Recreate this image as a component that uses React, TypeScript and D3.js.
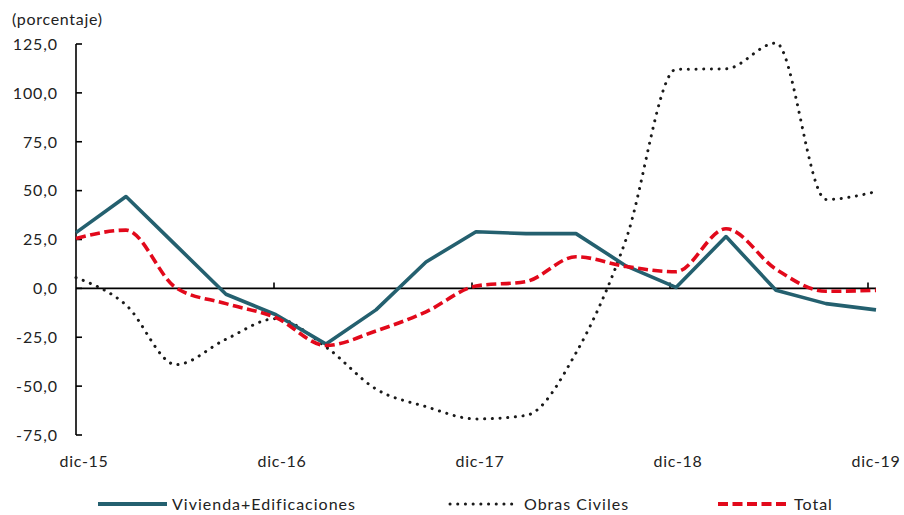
import React from "react";
import * as d3 from "d3";

const periods = ["dic-15","mar-16","jun-16","sep-16","dic-16","mar-17","jun-17","sep-17","dic-17","mar-18","jun-18","sep-18","dic-18","mar-19","jun-19","sep-19","dic-19"];
const vivienda = [28.5, 47, 22, -3, -13.5, -28.5, -11, 13.5, 29, 28, 28, 11.5, 0.5, 26.5, -1, -7.8, -11];
const obras = [5.5, -8.5, -39, -26, -15.5, -30, -51.5, -60.5, -66.8, -65, -33, 25, 112, 112.3, 125.5, 45.5, 49.5];
const total = [25.5, 29.8, 0.3, -7.8, -15, -29.2, -21.8, -12, 1.2, 3.5, 16.2, 11.2, 8.5, 30.5, 9.8, -1.5, -1];
const yTicks = [125, 100, 75, 50, 25, 0, -25, -50, -75];
const xTickLabels = ["dic-15", "dic-16", "dic-17", "dic-18", "dic-19"];
const legendNames = ["Vivienda+Edificaciones", "Obras Civiles", "Total"];

const W = 904, H = 515;
const FONT = "Lato, 'Open Sans', sans-serif";
const TEAL = "#24606F";
const RED = "#E2091B";
const DOT = "#1a1a1a";

export default function App() {
  const x = d3.scaleLinear().domain([0, periods.length - 1]).range([76, 876]);
  const xTick = d3.scaleLinear().domain([0, xTickLabels.length - 1]).range([76, 868]);
  const y = d3.scaleLinear().domain([-75, 125]).range([435, 44]);

  const lineLin = d3.line<number>().x((_, i) => x(i)).y((d) => y(d));
  const lineSmooth = d3.line<number>().x((_, i) => x(i)).y((d) => y(d)).curve(d3.curveMonotoneX);

  const fmt = (v: number) => v.toFixed(1).replace(".", ",");

  const legend = [
    { name: legendNames[0], x0: 98, x1: 167, tx: 172, stroke: TEAL, dash: undefined as string | undefined, cap: "butt", w: 4 },
    { name: legendNames[1], x0: 450, x1: 518, tx: 524, stroke: DOT, dash: "0.1 7.6", cap: "round", w: 3 },
    { name: legendNames[2], x0: 718, x1: 789, tx: 794, stroke: RED, dash: "10 4.5", cap: "butt", w: 4 },
  ];

  return (
    <svg width={W} height={H} style={{ position: "absolute", left: 0, top: 0, background: "#fff" }} fontFamily={FONT}>
      <rect width={W} height={H} fill="#fff" />
      <text x={12} y={25} fontSize={16} fill="#222" letterSpacing={0.7}>(porcentaje)</text>

      {/* y axis */}
      <line x1={x(0)} x2={x(0)} y1={y(125)} y2={y(-75)} stroke="#000" strokeWidth={1.6} />
      {yTicks.map((t) => (
        <g key={t}>
          <line x1={x(0)} x2={x(0) + 6} y1={y(t)} y2={y(t)} stroke="#000" strokeWidth={1.6} />
          <text x={58} y={y(t)} dy="0.36em" textAnchor="end" fontSize={16} fill="#222" letterSpacing={0.9}>{fmt(t)}</text>
        </g>
      ))}

      {/* zero line */}
      <line x1={x(0)} x2={x(periods.length - 1)} y1={y(0)} y2={y(0)} stroke="#000" strokeWidth={1.6} />
      {xTickLabels.map((l, i) => (
        <g key={l}>
          {i > 0 && <line x1={xTick(i)} x2={xTick(i)} y1={y(0)} y2={y(0) - 6} stroke="#000" strokeWidth={1.6} />}
          <text x={xTick(i) + 8} y={467} textAnchor="middle" fontSize={16} fill="#222" letterSpacing={0.7}>{l}</text>
        </g>
      ))}

      {/* series */}
      <path d={lineSmooth(obras) || ""} fill="none" stroke={DOT} strokeWidth={3} strokeDasharray="0.1 7.6" strokeLinecap="round" />
      <path d={lineLin(vivienda) || ""} fill="none" stroke={TEAL} strokeWidth={3.6} strokeLinejoin="round" />
      <path d={lineSmooth(total) || ""} fill="none" stroke={RED} strokeWidth={3.6} strokeDasharray="10 4.5" />

      {/* legend */}
      {legend.map((l) => (
        <g key={l.name}>
          <line x1={l.x0} x2={l.x1} y1={504} y2={504} stroke={l.stroke} strokeWidth={l.w} strokeDasharray={l.dash} strokeLinecap={l.cap as any} />
          <text x={l.tx} y={510} fontSize={16} fill="#222" letterSpacing={1}>{l.name}</text>
        </g>
      ))}
    </svg>
  );
}
